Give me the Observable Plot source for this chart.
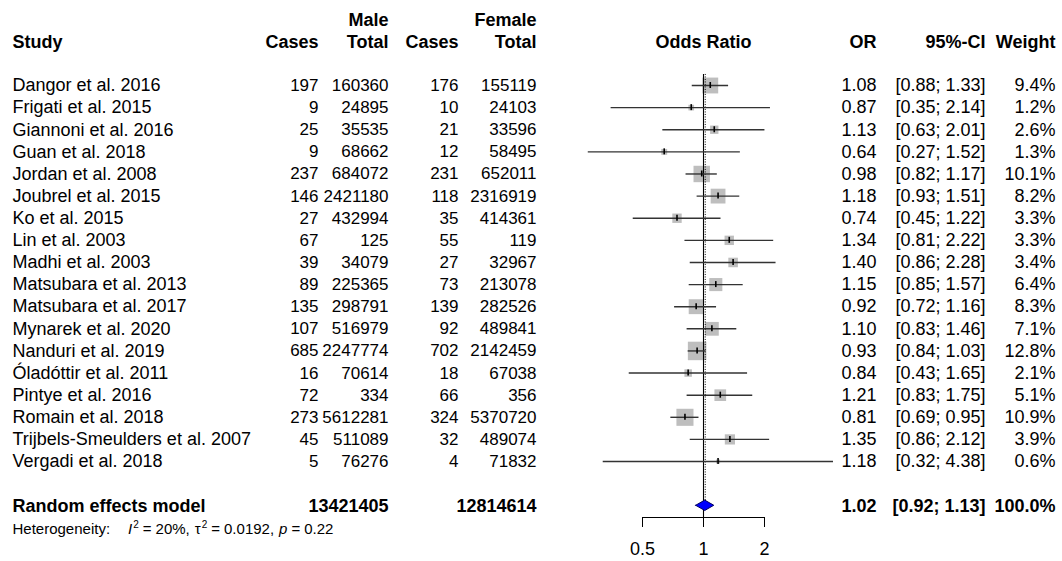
<!DOCTYPE html>
<html><head><meta charset="utf-8">
<script src="https://cdn.jsdelivr.net/npm/d3@7"></script>
<script src="https://cdn.jsdelivr.net/npm/@observablehq/plot@0.6"></script>
<style>
html,body{margin:0;padding:0;background:#fff;}
#chart svg{display:block;}
</style></head><body><div id="chart"></div>
<script>
// ---- data ----
const studies = ["Dangor et al. 2016","Frigati et al. 2015","Giannoni et al. 2016","Guan et al. 2018","Jordan et al. 2008","Joubrel et al. 2015","Ko et al. 2015","Lin et al. 2003","Madhi et al. 2003","Matsubara et al. 2013","Matsubara et al. 2017","Mynarek et al. 2020","Nanduri et al. 2019","Óladóttir et al. 2011","Pintye et al. 2016","Romain et al. 2018","Trijbels-Smeulders et al. 2007","Vergadi et al. 2018"];
const maleCases = [197,9,25,9,237,146,27,67,39,89,135,107,685,16,72,273,45,5];
const maleTotal = [160360,24895,35535,68662,684072,2421180,432994,125,34079,225365,298791,516979,2247774,70614,334,5612281,511089,76276];
const femaleCases = [176,10,21,12,231,118,35,55,27,73,139,92,702,18,66,324,32,4];
const femaleTotal = [155119,24103,33596,58495,652011,2316919,414361,119,32967,213078,282526,489841,2142459,67038,356,5370720,489074,71832];
const oddsRatio = [1.08,0.87,1.13,0.64,0.98,1.18,0.74,1.34,1.40,1.15,0.92,1.10,0.93,0.84,1.21,0.81,1.35,1.18];
const ciLow = [0.88,0.35,0.63,0.27,0.82,0.93,0.45,0.81,0.86,0.85,0.72,0.83,0.84,0.43,0.83,0.69,0.86,0.32];
const ciHigh = [1.33,2.14,2.01,1.52,1.17,1.51,1.22,2.22,2.28,1.57,1.16,1.46,1.03,1.65,1.75,0.95,2.12,4.38];
const weight = [9.4,1.2,2.6,1.3,10.1,8.2,3.3,3.3,3.4,6.4,8.3,7.1,12.8,2.1,5.1,10.9,3.9,0.6];

const summaryLabel = "Random effects model";
const summaryMaleTotal = 13421405;
const summaryFemaleTotal = 12814614;
const summaryOR = 1.02, summaryLow = 0.92, summaryHigh = 1.13, summaryWeight = 100.0;
const hetI2 = 20, hetTau2 = "0.0192", hetP = "0.22";
const axisTicks = [0.5, 1, 2];

const groupHeaders = ["Male", "Female"];
const columnHeaders = ["Study","Cases","Total","Cases","Total","OR","95%-CI","Weight"];
const plotHeader = "Odds Ratio";

// ---- layout ----
const W = 1062, H = 561;
const FONT = "'Liberation Sans', Arial, Helvetica, sans-serif";
const FS = 18, FS_COUNT = 17, FS_HET = 15;
const xOne = 703, pxPerDoubling = 61;
const row0 = 85, rowStep = 22.12;
const axisPx = 517;
const n = studies.length;
const sumRow = n + 1, hetRow = n + 2;
const axisRow = (axisPx - row0) / rowStep;
const diamondHalf = 5.2 / rowStep;
const tickHalf = 3 / rowStep;
const axisTickLen = 10 / rowStep;
const boxMax = 18.5;
const col = {study: 12, mc: 318, mt: 388, fc: 458, ft: 536, or: 876, ci: 985, w: 1055};

const rows = studies.map((s, i) => ({
  i, study: s, mc: maleCases[i], mt: maleTotal[i], fc: femaleCases[i], ft: femaleTotal[i],
  or: oddsRatio[i], lo: ciLow[i], hi: ciHigh[i], w: weight[i]
}));
const f2 = d3.format(".2f"), f1 = d3.format(".1f");
const ciText = (lo, hi) => `[${f2(lo)}; ${f2(hi)}]`;

function column(data, y, text, dx, extra = {}) {
  return Plot.text(data, {y, text, frameAnchor: "left", lineAnchor: "middle", dx, textAnchor: "end", fill: "black", fontSize: FS, ...extra});
}

const headerCols = [col.study, col.mc, col.mt, col.fc, col.ft, col.or, col.ci, col.w];
const headerRows = columnHeaders.map((t, k) => ({t, x: headerCols[k], anchor: k === 0 ? "start" : "end"}));
const groupRows = groupHeaders.map((t, k) => ({t, x: [col.mt, col.ft][k]}));
const summary = [{y: sumRow}];
const diamond = [
  {x: summaryLow, y1: sumRow, y2: sumRow},
  {x: summaryOR, y1: sumRow - diamondHalf, y2: sumRow + diamondHalf},
  {x: summaryHigh, y1: sumRow, y2: sumRow}
];

const plot = Plot.plot({
  width: W, height: H,
  marginLeft: 0, marginRight: 0, marginTop: 0, marginBottom: H - axisPx,
  style: {fontFamily: FONT, fontSize: FS + "px", background: "white", color: "black"},
  x: {type: "log", domain: [2 ** (-xOne / pxPerDoubling), 2 ** ((W - xOne) / pxPerDoubling)], axis: null},
  y: {domain: [0, n - 1], range: [row0, row0 + (n - 1) * rowStep], axis: null},
  r: {type: "sqrt", domain: [0, d3.max(weight)], range: [0, boxMax / Math.sqrt(Math.PI)]},
  marks: [
    // headers
    ...groupRows.map(g => Plot.text([g], {y: -3, text: "t", frameAnchor: "left", lineAnchor: "middle", dx: g.x, dy: 1.5, textAnchor: "end", fontWeight: "bold", fontSize: FS})),
    ...headerRows.map(h => Plot.text([h], {y: -2, text: "t", frameAnchor: "left", lineAnchor: "middle", dx: h.x, dy: 1, textAnchor: h.anchor, fontWeight: "bold", fontSize: FS})),
    Plot.text([plotHeader], {x: 1, y: -2, dy: 1, text: d => d, textAnchor: "middle", fontWeight: "bold", fontSize: FS}),
    // study rows text
    column(rows, "i", "study", col.study, {textAnchor: "start"}),
    column(rows, "i", d => String(d.mc), col.mc, {fontSize: FS_COUNT}),
    column(rows, "i", d => String(d.mt), col.mt, {fontSize: FS_COUNT}),
    column(rows, "i", d => String(d.fc), col.fc, {fontSize: FS_COUNT}),
    column(rows, "i", d => String(d.ft), col.ft, {fontSize: FS_COUNT}),
    column(rows, "i", d => f2(d.or), col.or),
    column(rows, "i", d => ciText(d.lo, d.hi), col.ci),
    column(rows, "i", d => f1(d.w) + "%", col.w),
    // summary row
    column(summary, "y", () => summaryLabel, col.study, {textAnchor: "start", fontWeight: "bold"}),
    column(summary, "y", () => String(summaryMaleTotal), col.mt, {fontWeight: "bold"}),
    column(summary, "y", () => String(summaryFemaleTotal), col.ft, {fontWeight: "bold"}),
    column(summary, "y", () => f2(summaryOR), col.or, {fontWeight: "bold"}),
    column(summary, "y", () => ciText(summaryLow, summaryHigh), col.ci, {fontWeight: "bold"}),
    column(summary, "y", () => f1(summaryWeight) + "%", col.w, {fontWeight: "bold"}),
    // heterogeneity
    Plot.text([`Heterogeneity: I2 = ${hetI2}%, tau2 = ${hetTau2}, p = ${hetP}`], {y: hetRow, dy: 1, text: d => d, frameAnchor: "left", lineAnchor: "middle", dx: col.study, textAnchor: "start", fontSize: FS_HET, fill: "black"}),
    // forest
    Plot.dot(rows, {x: "or", y: "i", r: "w", symbol: "square", fill: "#bebebe"}),
    Plot.ruleX([1], {y1: -0.5, y2: axisRow, stroke: "black", strokeWidth: 1.1}),
    Plot.ruleX([summaryOR], {y1: -0.5, y2: sumRow - diamondHalf, stroke: "black", strokeWidth: 1, strokeDasharray: "1,1.5"}),
    Plot.ruleY(rows, {y: "i", x1: "lo", x2: "hi", stroke: "#333", strokeWidth: 1.4}),
    Plot.ruleX(rows, {x: "or", y1: d => d.i - tickHalf, y2: d => d.i + tickHalf, stroke: "black", strokeWidth: 1.6}),
    Plot.areaY(diamond, {x: "x", y1: "y1", y2: "y2", fill: "#0000ff", stroke: "#000060", strokeWidth: 1}),
    // axis
    Plot.ruleY([axisRow], {x1: d3.min(axisTicks), x2: d3.max(axisTicks), stroke: "black", strokeWidth: 1}),
    Plot.ruleX(axisTicks, {x: d => d, y1: axisRow, y2: axisRow + axisTickLen, stroke: "black", strokeWidth: 1}),
    Plot.text(axisTicks, {x: d => d, frameAnchor: "bottom", lineAnchor: "middle", dy: 32, text: d => String(d), fontSize: FS, fill: "black", textAnchor: "middle"})
  ]
});

// rich text for heterogeneity line (italic symbols, superscripts, plotmath-like spacing)
const hetTokens = [
  {t: "Heterogeneity:"},
  {t: "I", dx: 18, italic: true},
  {t: "2", dx: 1, sup: true},
  {t: "=", dx: 4},
  {t: `${hetI2}%,`, dx: 4},
  {t: "τ", dx: 5},
  {t: "2", dx: 1, sup: true},
  {t: "=", dx: 4},
  {t: `${hetTau2},`, dx: 4},
  {t: "p", dx: 5, italic: true},
  {t: "=", dx: 4},
  {t: hetP, dx: 4}
];
d3.select(plot).selectAll("text").filter(function() { return this.textContent.startsWith("Heterogeneity"); })
  .each(function() {
    const t = d3.select(this);
    t.text(null);
    let raised = false;
    for (const tok of hetTokens) {
      const s = t.append("tspan").text(tok.t);
      let dy = 0;
      if (tok.sup && !raised) { dy = -6; raised = true; }
      else if (!tok.sup && raised) { dy = 6; raised = false; }
      if (dy) s.attr("dy", dy);
      if (tok.dx) s.attr("dx", tok.dx);
      if (tok.italic) s.attr("font-style", "italic");
      if (tok.sup) s.attr("font-size", 10);
    }
  });

document.getElementById("chart").appendChild(plot);
</script></body></html>
